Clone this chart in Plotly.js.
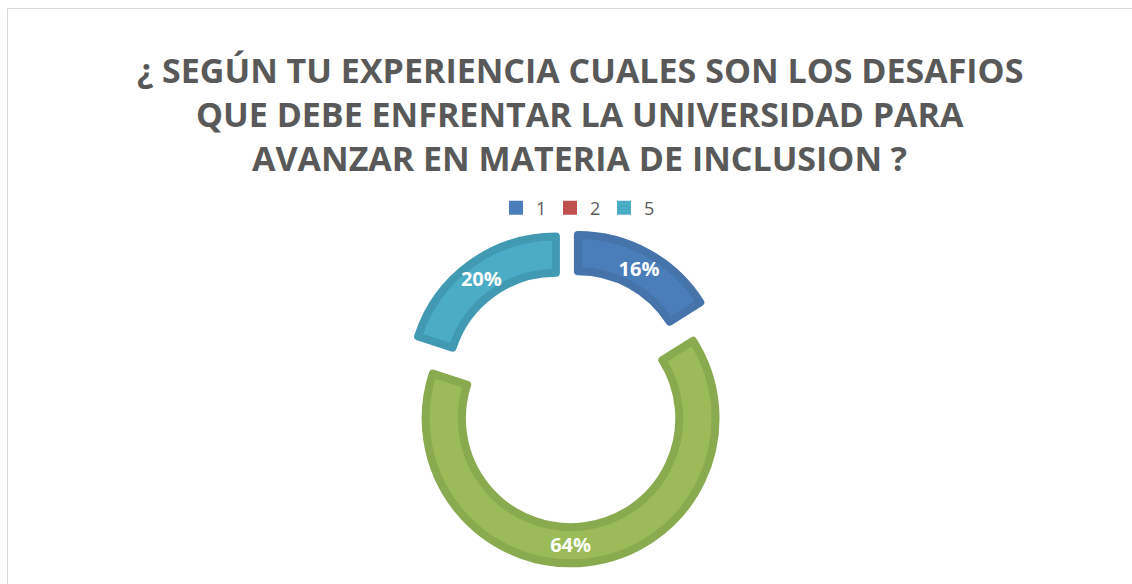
<!DOCTYPE html>
<html>
<head>
<meta charset="utf-8">
<script src="https://cdn.plot.ly/plotly-3.0.1.min.js"></script>
<style>html,body{margin:0;padding:0;background:#fff}#chart{width:1132px;height:584px}</style>
</head>
<body>
<div id="chart"></div>
<script>
// Data
const sliceLabels = ["1", "2", "3", "5"];
const sliceValues = [16, 0, 64, 20];
const legendLabels = ["1", "2", "5"];
const titleLines = [
  "¿ SEGÚN TU EXPERIENCIA CUALES SON LOS DESAFIOS",
  "QUE DEBE ENFRENTAR LA UNIVERSIDAD PARA",
  "AVANZAR EN MATERIA DE INCLUSION ?"
];

// Styles
const fillColors = {"1": "#4a7ebb", "2": "#c0504d", "3": "#9bbb59", "5": "#4bacc6"};
const lineColors = {"1": "#4573aa", "2": "#ad4946", "3": "#8aaa50", "5": "#4299b2"};
const W = 1132, H = 584;

const pie = {
  type: "pie",
  labels: sliceLabels,
  values: sliceValues,
  hole: 0.75,
  sort: false,
  direction: "clockwise",
  rotation: 0,
  pull: 0.142,
  showlegend: false,
  textinfo: "percent",
  textposition: "inside",
  insidetextorientation: "horizontal",
  texttemplate: sliceValues.map(v => v > 0 ? "%{percent:.0%}" : ""),
  insidetextfont: {family: "Open Sans, sans-serif", size: 20, color: "#ffffff", weight: 700},
  marker: {
    colors: sliceLabels.map(l => fillColors[l]),
    line: {
      color: sliceLabels.map(l => lineColors[l]),
      width: sliceValues.map(v => v > 0 ? 8 : 0)
    }
  },
  domain: {
    x: [(568 - 165.5) / W, (568 + 165.5) / W],
    y: [(H - 398 - 165.5) / H, (H - 398 + 165.5) / H]
  },
  hoverinfo: "label+percent"
};

const legendTraces = legendLabels.map(l => ({
  type: "scatter",
  mode: "markers",
  x: [null], y: [null],
  name: l,
  marker: {symbol: "square", size: 14, color: fillColors[l]},
  showlegend: true,
  hoverinfo: "skip"
}));

const titleY = [70, 114, 158];
const annotations = titleLines.map((t, i) => ({
  text: t,
  xref: "paper", yref: "paper",
  x: 579.5 / W, y: 1 - titleY[i] / H,
  xanchor: "center", yanchor: "middle",
  showarrow: false,
  font: {family: "Open Sans, sans-serif", size: 34, color: "#595959", weight: 700}
}));

const layout = {
  width: W, height: H,
  margin: {l: 0, r: 0, t: 0, b: 0},
  paper_bgcolor: "#ffffff",
  plot_bgcolor: "rgba(0,0,0,0)",
  xaxis: {visible: false, domain: [0, 1]},
  yaxis: {visible: false, domain: [0, 1]},
  showlegend: true,
  uniformtext: {minsize: 20, mode: "show"},
  legend: {
    orientation: "h",
    x: 577 / W, xanchor: "center",
    y: 1 - 208 / H, yanchor: "middle",
    font: {family: "Open Sans, sans-serif", size: 18, color: "#595959"},
    itemwidth: 30,
    entrywidth: 9,
    entrywidthmode: "pixels",
    bgcolor: "rgba(0,0,0,0)"
  },
  annotations: annotations,
  shapes: [
    {type: "line", xref: "paper", yref: "paper", x0: 7.5 / W, x1: 1, y0: 1 - 8.5 / H, y1: 1 - 8.5 / H, line: {color: "#d9d9d9", width: 1}},
    {type: "line", xref: "paper", yref: "paper", x0: 7.5 / W, x1: 7.5 / W, y0: 0, y1: 1 - 8.5 / H, line: {color: "#d9d9d9", width: 1}}
  ]
};

Plotly.newPlot("chart", [pie].concat(legendTraces), layout, {displayModeBar: false, staticPlot: true});
</script>
</body>
</html>
